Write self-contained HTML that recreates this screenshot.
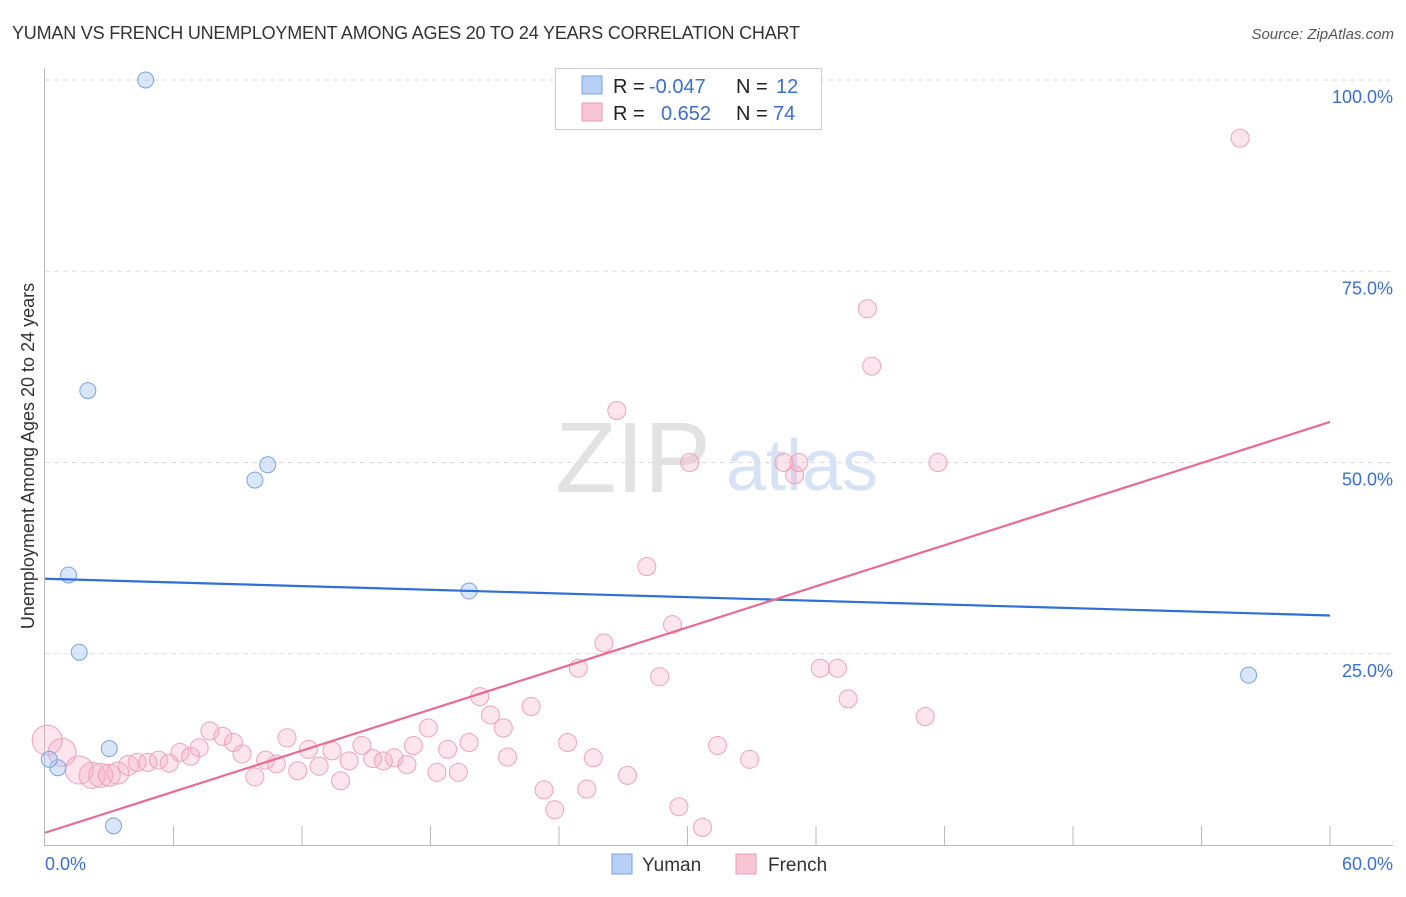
<!DOCTYPE html>
<html><head><meta charset="utf-8">
<style>
body{margin:0;background:#fff;font-family:"Liberation Sans",sans-serif;}
svg text{font-family:"Liberation Sans",sans-serif;}
</style></head>
<body>
<svg id="chart" width="1406" height="892">
<text x="12" y="39" font-size="18" fill="#333" letter-spacing="-0.2">YUMAN VS FRENCH UNEMPLOYMENT AMONG AGES 20 TO 24 YEARS CORRELATION CHART</text>
<text x="1394" y="39" font-size="15" fill="#555" font-style="italic" text-anchor="end">Source: ZipAtlas.com</text>
<text x="633" y="492" font-size="100" fill="#e2e2e2" font-family="Liberation Serif" text-anchor="middle">ZIP</text>
<text x="802" y="490" font-size="72" fill="#d6e2f5" text-anchor="middle">atlas</text>
<g id="grid"></g>
<g id="axes"></g>
<g id="marks"></g>
<text transform="translate(34,456) rotate(-90)" font-size="18" fill="#333" text-anchor="middle">Unemployment Among Ages 20 to 24 years</text>
<g>
<rect x="555.5" y="68.5" width="266" height="61" fill="#fff" stroke="#ccc"/>
<rect x="582" y="76" width="20" height="18" fill="#b8d0f5" stroke="#7aa3e0"/>
<rect x="582" y="103" width="20" height="18" fill="#f9c6d6" stroke="#eb98b3"/>
<text x="613" y="93" font-size="20" fill="#222">R = </text><text x="649" y="93" font-size="20" fill="#3a6fd0">-0.047</text>
<text x="736" y="93" font-size="20" fill="#222">N = </text><text x="776" y="93" font-size="20" fill="#3a6fd0">12</text>
<text x="613" y="120" font-size="20" fill="#222">R = </text><text x="661" y="120" font-size="20" fill="#3a6fd0">0.652</text>
<text x="736" y="120" font-size="20" fill="#222">N = </text><text x="773" y="120" font-size="20" fill="#3a6fd0">74</text>
</g>
<g>
<rect x="612" y="854" width="20" height="20" fill="#b8d0f5" stroke="#7aa3e0"/>
<text x="642" y="871" font-size="19" fill="#333">Yuman</text>
<rect x="736" y="854" width="20" height="20" fill="#f9c6d6" stroke="#eb98b3"/>
<text x="768" y="871" font-size="19" fill="#333">French</text>
</g>
</svg>
<script>
const yTickVals=[25,50,75,100];
const yTickLabels=["25.0%","50.0%","75.0%","100.0%"];
const xLabels=["0.0%","60.0%"];
const yumanX=[4.7,2.0,9.8,10.4,1.1,1.6,19.8,3.0,3.2,0.6,0.2,56.2];
const yumanY=[100,59.4,47.7,49.7,35.3,25.2,33.2,12.6,2.5,10.1,11.2,22.2];
const yumanTrend=[34.8,30.0];
const frenchX=[0.1,0.8,1.6,2.2,2.6,3.0,3.4,3.9,4.3,4.8,5.3,5.8,6.3,6.8,7.2,7.7,8.3,8.8,9.2,9.8,10.3,10.8,11.3,11.8,12.3,12.8,13.4,13.8,14.2,14.8,15.3,15.8,16.3,16.9,17.2,17.9,18.3,18.8,19.3,19.8,20.3,20.8,21.4,21.6,22.7,23.3,23.8,24.4,24.9,25.3,25.6,26.1,26.7,27.2,28.1,28.7,29.3,29.6,30.1,30.7,31.4,32.9,34.5,35.0,35.2,36.2,37.0,37.5,38.4,38.6,41.1,41.7,55.8];
const frenchY=[13.7,12.1,9.8,9.1,9.1,9.1,9.4,10.4,10.8,10.8,11.1,10.7,12.1,11.6,12.7,14.9,14.2,13.4,11.9,8.9,11.1,10.6,14.0,9.7,12.5,10.3,12.3,8.4,11.0,13.0,11.3,11.0,11.4,10.5,13.0,15.3,9.5,12.5,9.5,13.4,19.4,17.0,15.3,11.5,18.1,7.2,4.6,13.4,23.1,7.3,11.4,26.4,56.8,9.1,36.4,22.0,28.8,5.0,50.0,2.3,13.0,11.2,50.0,48.4,50.0,23.1,23.1,19.1,70.1,62.6,16.8,50.0,92.4];
const frenchSize=[15,14,14,13,12,11,11,10,9,9,9,9,9,9,9,9,9,9,9,9,9,9,9,9,9,9,9,9,9,9,9,9,9,9,9,9,9,9,9,9,9,9,9,9,9,9,9,9,9,9,9,9,9,9,9,9,9,9,9,9,9,9,9,9,9,9,9,9,9,9,9,9,9];
const frenchTrend=[1.6,55.3];
const X0=45,X1=1330,Y0=845,Y100=80;
const sx=v=>X0+(v/60)*(X1-X0);
const sy=v=>Y0-(v/100)*(Y0-Y100);
const NS="http://www.w3.org/2000/svg";
function mk(tag,attrs,parent){const e=document.createElementNS(NS,tag);for(const k in attrs)e.setAttribute(k,attrs[k]);document.getElementById(parent).appendChild(e);return e;}
yTickVals.forEach((v,i)=>{
 const l=mk('line',{x1:45,x2:1393,y1:sy(v),y2:sy(v),stroke:'#ddd','stroke-dasharray':'5,4'},'grid');
 
 
 const t=mk('text',{x:1393,y:sy(v)+23,'font-size':18,fill:'#3a6fd0','text-anchor':'end'},'grid');
 t.textContent=yTickLabels[i];
 
 
});
const ax=mk('line',{x1:44.5,x2:44.5,y1:68,y2:845,stroke:'#bbb'},'axes');


const bx=mk('line',{x1:44,x2:1393,y1:845.5,y2:845.5,stroke:'#bbb'},'axes');


for(let i=1;i<=10;i++){
 const t=mk('line',{x1:sx(i*6),x2:sx(i*6),y1:826,y2:845,stroke:'#bbb'},'axes');
 
 
}
[[0,'start',45],[60,'end',1393]].forEach((a,i)=>{
 const t=mk('text',{x:a[2],y:870,'font-size':18,fill:'#3a6fd0','text-anchor':a[1]},'axes');
 t.textContent=xLabels[i];
 
 
});
frenchX.forEach((x,i)=>{
 const c=mk('circle',{cx:sx(x),cy:sy(frenchY[i]),r:frenchSize[i]||9,fill:'rgba(246,170,196,0.3)',stroke:'#eea3bc','stroke-width':1},'marks');
 
 
});
yumanX.forEach((x,i)=>{
 const c=mk('circle',{cx:sx(x),cy:sy(yumanY[i]),r:8,fill:'rgba(170,200,245,0.45)',stroke:'#7aa3e0','stroke-width':1},'marks');
 
 
});
const ly=mk('line',{x1:sx(0),x2:sx(60),y1:sy(yumanTrend[0]),y2:sy(yumanTrend[1]),stroke:'#2f6fd6','stroke-width':2.2},'marks');


const lf=mk('line',{x1:sx(0),x2:sx(60),y1:sy(frenchTrend[0]),y2:sy(frenchTrend[1]),stroke:'#e86a95','stroke-width':2.2},'marks');


</script>
</body></html>
